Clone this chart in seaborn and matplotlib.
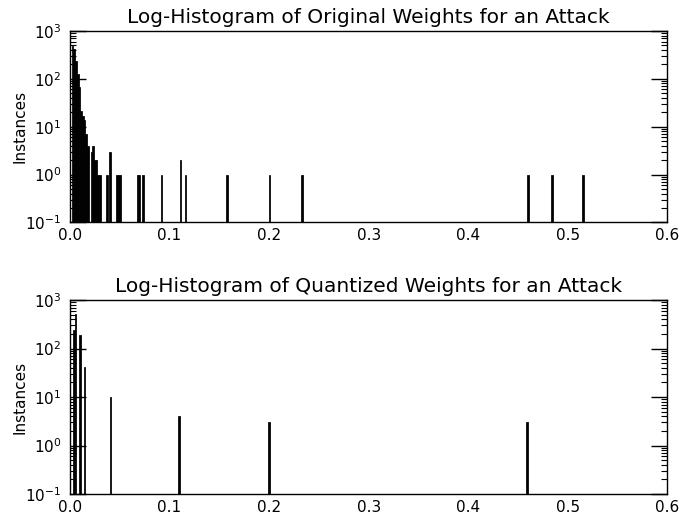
import numpy as np
import pandas as pd
import matplotlib
matplotlib.use("Agg")
import matplotlib.pyplot as plt
import seaborn as sns

# Weight values (bin centres) and how many weights fall there
orig_weights = [0.0026, 0.0043, 0.0060, 0.0077, 0.0095, 0.0112, 0.0129, 0.0146,
                0.0163, 0.0181, 0.0215, 0.0232, 0.0249, 0.0267, 0.0284, 0.0301,
                0.0370, 0.0404, 0.0473, 0.0490, 0.0507, 0.0679, 0.0697, 0.0731,
                0.0920, 0.1109, 0.1161, 0.1574, 0.2004, 0.2331, 0.4601, 0.4842,
                0.5151]
orig_counts = [480, 430, 240, 127, 67, 21, 17, 14,
               7, 4, 3, 4, 2, 2, 1, 1,
               1, 3, 1, 1, 1, 1, 1, 1,
               1, 2, 1, 1, 1, 1, 1, 1,
               1]

quant_weights = [0.0037, 0.0053, 0.0093, 0.0153, 0.0404, 0.1103, 0.1999, 0.4597]
quant_counts = [238, 525, 194, 42, 10, 4, 3, 3]

orig_max = 0.516
quant_max = 0.46
n_bins = 300

sns.set_style("white")
plt.rcParams["font.family"] = ["DejaVu Sans"]
plt.rcParams.update({"text.color": "black", "axes.labelcolor": "black",
                     "xtick.color": "black", "ytick.color": "black"})

fig = plt.figure(figsize=(6.81, 5.16), dpi=100)
ax1 = fig.add_axes([0.1028, 0.5690, 0.8770, 0.3710])
ax2 = fig.add_axes([0.1028, 0.0426, 0.8770, 0.3760])

panels = [
    (ax1, orig_weights, orig_counts, orig_max, "Log-Histogram of Original Weights for an Attack"),
    (ax2, quant_weights, quant_counts, quant_max, "Log-Histogram of Quantized Weights for an Attack"),
]

for ax, w, c, wmax, title in panels:
    df = pd.DataFrame({"weight": w, "count": c})
    edges = list(np.linspace(0, wmax, n_bins + 1))
    sns.histplot(data=df, x="weight", weights="count", bins=edges, ax=ax,
                 color="black", edgecolor="black", linewidth=0.55, alpha=1.0)
    ax.set_yscale("log")
    ax.set_xlim(0, 0.6)
    ax.set_ylim(0.1, 1000)
    ax.set_xticks([0.0, 0.1, 0.2, 0.3, 0.4, 0.5, 0.6])
    ax.set_title(title, fontsize=14.5, pad=6)
    ax.set_ylabel("Instances", fontsize=11)
    ax.yaxis.set_label_coords(-0.072, 0.5)
    ax.set_xlabel("")
    for s in ax.spines.values():
        s.set_color("black")
        s.set_linewidth(1.0)
    ax.tick_params(axis="x", which="both", length=0, labelsize=11, pad=4)
    ax.tick_params(axis="y", which="major", direction="in", length=11.5,
                   width=1, left=True, right=True, labelsize=11, pad=6)
    ax.tick_params(axis="y", which="minor", direction="in", length=4,
                   width=0.8, left=True, right=True)

fig.savefig("out.png", dpi=100)
